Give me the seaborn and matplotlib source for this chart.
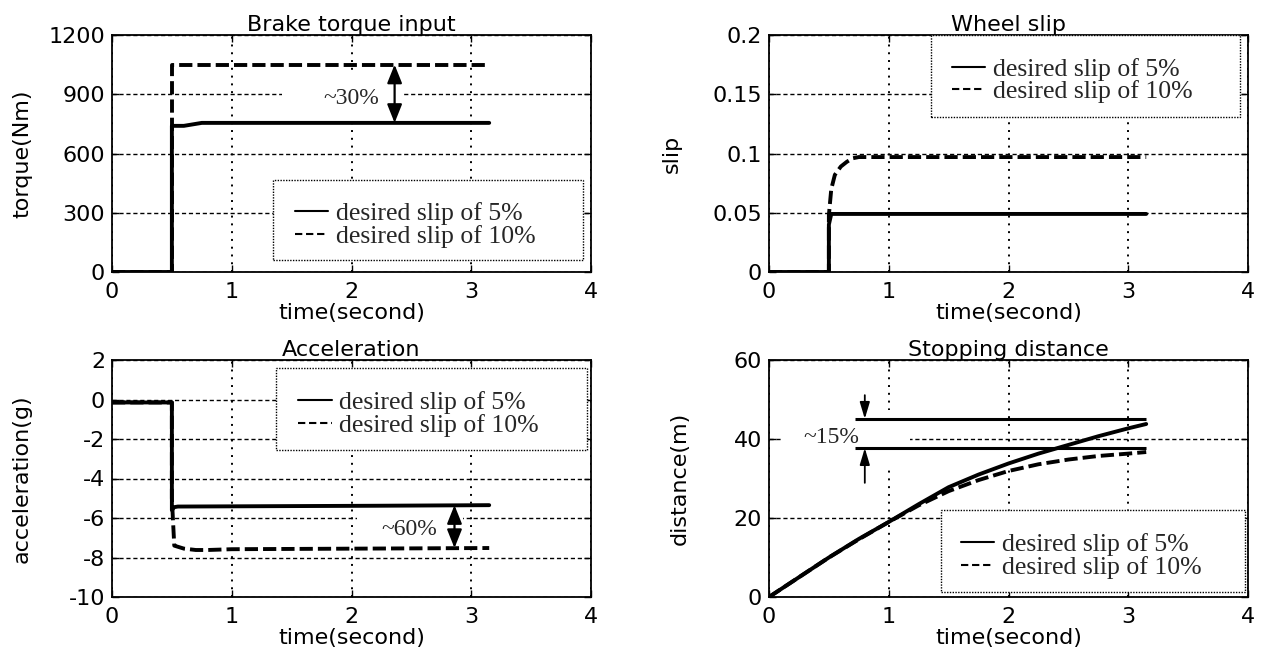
import numpy as np
import pandas as pd
import matplotlib
matplotlib.use("Agg")
import matplotlib.pyplot as plt
from matplotlib.lines import Line2D
from matplotlib.patches import Rectangle
import seaborn as sns

# ---------------- data ----------------
series_labels = ["desired slip of 5%", "desired slip of 10%"]

t_torque_5 = [0, 0.5, 0.5, 0.6, 0.7, 0.75, 3.15]
torque_5 = [0, 0, 740, 740, 750, 755, 755]
t_torque_10 = [0, 0.5, 0.5, 3.15]
torque_10 = [0, 0, 1050, 1050]

t_slip_5 = [0, 0.5, 0.5, 0.52, 3.15]
slip_5 = [0, 0, 0.04, 0.049, 0.049]
t_slip_10 = [0, 0.5, 0.5, 0.52, 0.55, 0.6, 0.65, 0.7, 0.75, 3.15]
slip_10 = [0, 0, 0.048, 0.07, 0.082, 0.089, 0.093, 0.096, 0.097, 0.097]

t_acc_5 = [0, 0.5, 0.5, 0.52, 0.55, 2.2, 3.15]
acc_5 = [-0.15, -0.15, -5.6, -5.45, -5.42, -5.38, -5.35]
t_acc_10 = [0, 0.5, 0.5, 0.52, 0.6, 0.7, 0.8, 1.0, 3.15]
acc_10 = [-0.15, -0.15, -5.0, -7.4, -7.55, -7.62, -7.62, -7.58, -7.52]

t_dist = [0, 0.25, 0.5, 0.75, 1.0, 1.25, 1.5, 1.75, 2.0, 2.25, 2.5, 2.75, 3.0, 3.15]
dist_5 = [0, 5, 10, 14.7, 19, 23.5, 27.8, 31, 33.8, 36.3, 38.5, 40.7, 42.7, 43.8]
dist_10 = [0, 5, 10, 14.6, 19, 23.2, 26.8, 29.6, 31.9, 33.6, 34.8, 35.7, 36.3, 36.7]

titles = ["Brake torque input", "Wheel slip", "Acceleration", "Stopping distance"]
ylabels = ["torque(Nm)", "slip", "acceleration(g)", "distance(m)"]
xlabel = "time(second)"
xticks = [0, 1, 2, 3, 4]
yticks_torque = [0, 300, 600, 900, 1200]
yticks_slip = [0, 0.05, 0.1, 0.15, 0.2]
yticklabels_slip = ["0", "0.05", "0.1", "0.15", "0.2"]
yticks_acc = [-10, -8, -6, -4, -2, 0, 2]
yticks_dist = [0, 20, 40, 60]

# annotation values
torque_arrow = (2.36, 755, 1050)
torque_text = (2.0, 880, "~30%")
acc_arrow = (2.86, -5.35, -7.52)
acc_text = (2.48, -6.6, "~60%")
dist_levels = [45.1, 37.7]
dist_text = (0.52, 40.5, "~15%")

# ---------------- style ----------------
sns.set_theme(style="white")
plt.rcParams["font.family"] = ["DejaVu Sans"]
plt.rcParams["axes.edgecolor"] = "black"
plt.rcParams["axes.linewidth"] = 1.3

SERIF = ["Liberation Serif", "DejaVu Serif"]
TICK_FS = 16

fig = plt.figure(figsize=(12.63, 6.5), dpi=100)
W, H = 1263, 650
def ax_at(x0, y0, x1, y1):
    return fig.add_axes([x0 / W, 1 - y1 / H, (x1 - x0) / W, (y1 - y0) / H])

axes = [ax_at(112, 35, 591, 272), ax_at(769, 35, 1248, 272),
        ax_at(112, 360, 591, 597), ax_at(769, 360, 1248, 597)]

LW = 2.8
DASH = (3.4, 1.3)

def draw(ax, t5, y5, t10, y10):
    df5 = pd.DataFrame({"t": t5, "v": y5})
    df10 = pd.DataFrame({"t": t10, "v": y10})
    sns.lineplot(data=df10, x="t", y="v", ax=ax, estimator=None, sort=False,
                 color="black", lw=LW, dashes=False, linestyle=(0, DASH), zorder=2)
    sns.lineplot(data=df5, x="t", y="v", ax=ax, estimator=None, sort=False,
                 color="black", lw=LW, zorder=2.1)

draw(axes[0], t_torque_5, torque_5, t_torque_10, torque_10)
draw(axes[1], t_slip_5, slip_5, t_slip_10, slip_10)
draw(axes[2], t_acc_5, acc_5, t_acc_10, acc_10)
draw(axes[3], t_dist, dist_5, t_dist, dist_10)

ylims = [(0, 1200), (0, 0.2), (-10, 2), (0, 60)]
yticks_all = [yticks_torque, yticks_slip, yticks_acc, yticks_dist]
ylabel_x = [-0.167, -0.182, -0.167, -0.165]

# legend boxes: (x0, x1, y0, y1) in axes fraction, legend center
leg_boxes = [(0.336, 0.983, 0.051, 0.388), (0.338, 0.983, 0.654, 1.0),
             (0.342, 0.992, 0.62, 0.966), (0.359, 0.994, 0.021, 0.367)]
leg_centers = [(0.633, 0.198), (0.633, 0.808), (0.64, 0.772), (0.652, 0.173)]

handles = [Line2D([], [], color="black", lw=1.5),
           Line2D([], [], color="black", lw=1.5, linestyle=(0, (3.5, 1.8)))]

for i, ax in enumerate(axes):
    ax.set_xlim(0, 4)
    ax.set_ylim(*ylims[i])
    ax.set_xticks(xticks)
    ax.set_yticks(yticks_all[i])
    if i == 1:
        ax.set_yticklabels(yticklabels_slip)
    else:
        ax.set_yticklabels([f"{v:g}" for v in yticks_all[i]])
    ax.set_xticklabels([str(v) for v in xticks])
    ax.set_axisbelow(True)
    ax.yaxis.grid(True, color="black", lw=1.0, linestyle=(0, (3, 2)))
    ax.xaxis.grid(True, color="black", lw=1.4, linestyle=(0, (1, 3)))
    ax.tick_params(axis="both", which="both", direction="in", length=5, width=1,
                   top=True, right=True, bottom=True, left=True,
                   labelsize=TICK_FS, colors="black")
    ax.tick_params(axis="x", pad=7)
    ax.tick_params(axis="y", pad=5)
    for s in ax.spines.values():
        s.set_visible(True)
        s.set_color("black")
        s.set_linewidth(1.3)
    ax.set_title(titles[i], fontsize=TICK_FS, pad=3, color="black")
    ax.set_xlabel(xlabel, fontsize=TICK_FS, color="black", va="top")
    ax.set_ylabel(ylabels[i], fontsize=TICK_FS, color="black")
    ax.xaxis.set_label_coords(0.5, -0.13)
    ax.yaxis.set_label_coords(ylabel_x[i], 0.5)

    bx0, bx1, by0, by1 = leg_boxes[i]
    ax.add_patch(Rectangle((bx0, by0), bx1 - bx0, by1 - by0, transform=ax.transAxes,
                           facecolor="white", edgecolor="black", lw=1.0,
                           linestyle=(0, (1, 1)), zorder=3))
    cx, cy = leg_centers[i]
    ax.legend(handles, series_labels, loc="center", bbox_to_anchor=(cx, cy),
              bbox_transform=ax.transAxes, frameon=False,
              prop={"family": SERIF, "size": 18.5}, handlelength=1.3,
              handletextpad=0.3, labelspacing=0.0, borderpad=0)

ANN_FS = 17
HEAD2 = "<|-|>,head_length=0.75,head_width=0.3"
# torque annotation
ax = axes[0]
ax.add_patch(Rectangle((1.42, 785), 1.01, 215, facecolor="white", edgecolor="none", zorder=1))
x, y0, y1 = torque_arrow
ax.annotate("", xy=(x, y1), xytext=(x, y0),
            arrowprops=dict(arrowstyle=HEAD2, mutation_scale=15, lw=1.6,
                            color="black", shrinkA=0, shrinkB=0), zorder=4)
tx, ty, tt = torque_text
ax.text(tx, ty, tt, ha="center", va="center", fontsize=ANN_FS, family=SERIF, zorder=4)

# acceleration annotation
ax = axes[2]
ax.add_patch(Rectangle((2.05, -7.3), 0.88, 1.75, facecolor="white", edgecolor="none", zorder=1))
x, y0, y1 = acc_arrow
ax.annotate("", xy=(x, y1), xytext=(x, y0),
            arrowprops=dict(arrowstyle=HEAD2, mutation_scale=15, lw=1.6,
                            color="black", shrinkA=0, shrinkB=0), zorder=4)
tx, ty, tt = acc_text
ax.text(tx, ty, tt, ha="center", va="center", fontsize=ANN_FS, family=SERIF, zorder=4)

# distance annotation
ax = axes[3]
ax.add_patch(Rectangle((0.12, 32.2), 1.06, 15.1, facecolor="white", edgecolor="none", zorder=1))
ax.hlines(dist_levels, 0.72, 3.15, color="black", lw=2.2, zorder=2.2)
HEAD1 = "-|>,head_length=1.0,head_width=0.3"
ax.annotate("", xy=(0.8, dist_levels[0]), xytext=(0.8, 51.1),
            arrowprops=dict(arrowstyle=HEAD1, mutation_scale=10, lw=1.3,
                            color="black", shrinkA=0, shrinkB=0), zorder=4)
ax.annotate("", xy=(0.8, dist_levels[1]), xytext=(0.8, 28.9),
            arrowprops=dict(arrowstyle=HEAD1, mutation_scale=10, lw=1.3,
                            color="black", shrinkA=0, shrinkB=0), zorder=4)
tx, ty, tt = dist_text
ax.text(tx, ty, tt, ha="center", va="center", fontsize=ANN_FS, family=SERIF, zorder=4)

fig.savefig("out.png", dpi=100, facecolor="white")
